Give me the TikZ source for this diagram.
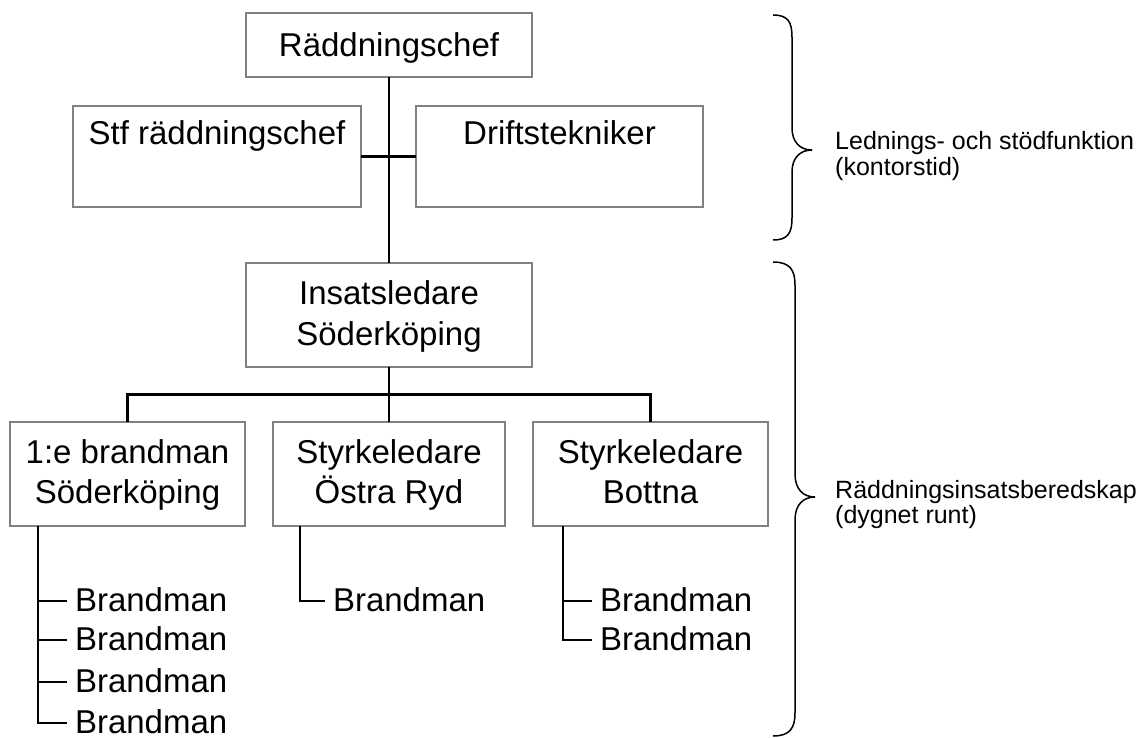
\documentclass[tikz,border=0pt]{standalone}
\usepackage{fontspec}
\setmainfont{Liberation Sans}
\usetikzlibrary{calc}
\definecolor{boxgray}{RGB}{128,128,128}
\newcommand{\twoline}[2]{\begin{tabular}[t]{@{}c@{}}#1\\#2\end{tabular}}
\newcommand{\twolineleft}[2]{\begin{tabular}[t]{@{}l@{}}#1\\#2\end{tabular}}
\begin{document}
\begin{tikzpicture}[x=1pt,y=-1pt,
  box/.style={draw=boxgray, line width=2.4pt, fill=white, inner sep=0pt, outer sep=0pt,
              anchor=base, font=\fontsize{33}{40}\selectfont},
  conn/.style={draw=black, line width=2.6pt},
  leaf/.style={inner xsep=8pt, inner ysep=0pt, outer sep=0pt, text height=22pt, text depth=2pt,
               anchor=west, font=\fontsize{33}{40}\selectfont},
  lbl/.style={inner sep=0pt, anchor=base west, font=\fontsize{25}{23}\selectfont},
  brace/.style={draw=black, line width=1.5pt}]
\useasboundingbox[fill=white] (0,0) rectangle (1141,738);

% boxes
\node[box, minimum width=286pt, text height=44pt, text depth=20pt] (rc) at (389,57) {Räddningschef};
\node[box, minimum width=288pt, text height=39pt, text depth=62pt] (stf) at (217,145) {Stf räddningschef};
\node[box, minimum width=287pt, text height=39pt, text depth=62pt] (drift) at (559.5,145) {Driftstekniker};
\node[box, minimum width=286pt, text height=42pt, text depth=62pt] (ins) at (389,305) {\twoline{Insatsledare}{Söderköping}};
\node[box, minimum width=235pt, text height=41pt, text depth=63pt] (b1) at (127.5,463) {\twoline{1:e brandman}{Söderköping}};
\node[box, minimum width=232pt, text height=41pt, text depth=63pt] (b2) at (389,463) {\twoline{Styrkeledare}{Östra Ryd}};
\node[box, minimum width=235pt, text height=41pt, text depth=63pt] (b3) at (650.5,463) {\twoline{Styrkeledare}{Bottna}};

% connectors between boxes
\draw[conn] (rc.south) -- (ins.north);
\draw[conn] (stf.east) -- (drift.west);
\draw[conn] (ins.south) -- (b2.north);
\coordinate (bus) at ($(ins.south)!0.5!(b2.north)$);
\draw[conn] (b1.north) |- (bus) -| (b3.north);

% leaves
\node[leaf] (l11) at (67,601) {Brandman};
\node[leaf] (l12) at (67,640) {Brandman};
\node[leaf] (l13) at (67,682) {Brandman};
\node[leaf] (l14) at (67,723) {Brandman};
\node[leaf] (l21) at (325,601) {Brandman};
\node[leaf] (l31) at (592,601) {Brandman};
\node[leaf] (l32) at (592,640) {Brandman};

\coordinate (t1) at ([xshift=28pt]b1.south west);
\coordinate (t2) at ([xshift=27pt]b2.south west);
\coordinate (t3) at ([xshift=30pt]b3.south west);
\draw[conn] (t1) |- (l14.west);
\foreach \n in {l11,l12,l13} \draw[conn] (\n.west) -- (t1 |- \n.west);
\draw[conn] (t2) |- (l21.west);
\draw[conn] (t3) |- (l32.west);
\draw[conn] (l31.west) -- (t3 |- l31.west);

% braces
\draw[brace] (773,15) .. controls (788,15) and (792,22) .. (792,37) -- (792,128)
  .. controls (792,142) and (800,150) .. (812,150)
  .. controls (800,150) and (792,158) .. (792,172) -- (792,218)
  .. controls (792,233) and (788,240) .. (773,240);
\draw[brace] (773,262) .. controls (790,262) and (795,270) .. (795,285) -- (795,474)
  .. controls (795,489) and (803,497) .. (815,497)
  .. controls (803,497) and (795,505) .. (795,520) -- (795,713)
  .. controls (795,728) and (790,736) .. (773,736);

% labels
\node[lbl] (lab1) at (835,150) {\twolineleft{Lednings- och stödfunktion}{(kontorstid)}};
\node[lbl] (lab2) at (835,498) {\twolineleft{Räddningsinsatsberedskap}{(dygnet runt)}};
\end{tikzpicture}
\end{document}
